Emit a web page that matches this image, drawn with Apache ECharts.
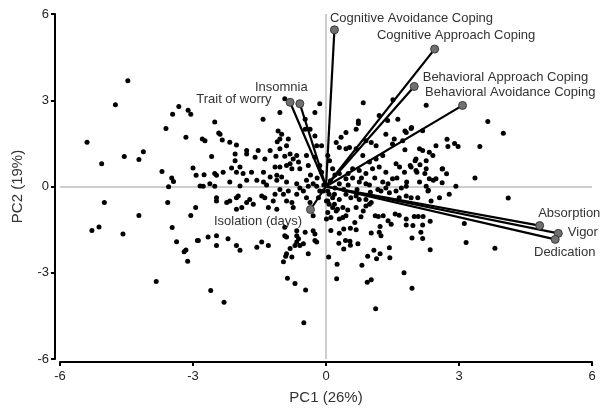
<!DOCTYPE html>
<html>
<head>
<meta charset="utf-8">
<script src="https://cdn.jsdelivr.net/npm/echarts@6/dist/echarts.min.js"></script>
<style>
    html, body { margin: 0; padding: 0; background: #fff; }
    #chart { width: 604px; height: 410px; }
</style>
</head>
<body>
<div id="chart"></div>
<script>
// tick labels
var xTicks = [-6, -3, 0, 3, 6];
var yTicks = [-6, -3, 0, 3, 6];

// PCA scores (PC1, PC2)
var scores = [
    [-4.47, 3.68], [-4.75, 2.84], [-5.39, 1.54], [-5.06, 0.79], [-4.55, 1.04], [-4.22, 0.94], [-4.12, 1.21],
    [-3.70, 0.52], [-3.48, 0.30], [-3.44, 0.17], [-3.55, -0.01], [-3.61, 2.02], [-3.46, 2.51], [-3.32, 2.78],
    [-3.11, 2.65], [-3.05, 2.51], [-3.16, 1.71], [-3.00, 0.64], [-2.93, 0.39], [-5.00, -0.56], [-4.22, -1.01],
    [-5.28, -1.53], [-5.12, -1.41], [-4.58, -1.65], [-3.57, -0.56], [-2.94, -0.73], [-3.05, -1.01], [-3.47, -1.43],
    [-3.37, -1.92], [-2.90, -1.88], [-3.20, -2.27], [-3.16, -2.21], [-3.12, -2.60], [-3.83, -3.30],

    [-0.93, 3.05], [-0.14, 2.88], [-0.25, 2.57], [-1.42, 2.34], [-1.04, 2.57], [-2.51, 2.24],
    [-2.79, 1.65], [-2.73, 1.59], [-2.42, 1.86], [-2.34, 1.62], [-2.17, 1.54], [-2.02, 1.44], [-2.58, 1.04],
    [-2.75, 0.41], [-2.51, 0.45], [-2.32, 0.50], [-2.13, 0.64], [-2.02, 0.50], [-2.05, 0.90], [-1.94, 0.68], [-1.87, 0.45],
    [-1.79, 1.25], [-1.60, 1.02], [-1.53, 1.25], [-1.38, 0.96], [-1.26, 1.25], [-1.04, 1.31], [-0.89, 1.42], [-1.13, 1.05], [-0.93, 1.05],
    [-1.08, 1.93], [-1.00, 1.82], [-1.04, 1.65], [-0.85, 1.65], [-1.10, 1.56],
    [-0.81, 1.13], [-0.74, 0.96], [-0.66, 1.08], [-0.62, 0.85], [-0.81, 0.79], [-0.89, 0.73], [-1.04, 0.68], [-1.15, 0.68], [-0.77, 0.62], [-0.59, 0.62],
    [-0.47, 2.34], [-0.47, 1.99], [-0.36, 1.99], [-0.25, 1.76], [-0.21, 1.42], [-0.44, 1.08], [-0.40, 0.73], [-0.25, 1.02], [-0.14, 0.73], [-0.10, 1.42],
    [-2.84, 0.02], [-2.62, 0.10], [-2.17, 0.16], [-1.94, 0.02], [-1.56, 0.22], [-1.34, 0.05], [-1.11, 0.22], [-0.89, 0.16], [-0.66, 0.10], [-0.44, 0.22], [-0.29, 0.10],
    [-1.11, 0.39], [-1.00, 0.33], [-1.26, 0.33], [-2.39, 1.82], [-2.05, 1.13], [-1.79, 1.13], [-1.68, 0.50], [-1.41, 0.50], [-2.47, 0.39], [-1.79, 0.22], [-1.41, 0.16],

    [-2.60, -3.62], [-0.46, -3.60], [-0.87, -3.19], [-0.70, -3.37], [-0.96, -2.62], [-0.91, -2.43], [-0.77, -2.45], [-0.81, -2.16],
    [-0.89, -2.34], [-0.59, -2.05], [-0.66, -1.93], [-0.51, -1.99], [-0.70, -2.05], [-0.40, -2.34], [-0.25, -1.88], [-0.21, -1.93],
    [-0.29, -1.54], [-0.25, -1.65], [-0.66, -1.71], [-0.62, -1.82], [-0.93, -1.71], [-0.89, -1.76],
    [-2.88, -1.88], [-2.66, -1.76], [-2.47, -1.71], [-2.47, -2.05], [-2.21, -1.82], [-2.02, -2.05], [-1.94, -2.22], [-1.56, -2.11], [-1.45, -1.93], [-1.30, -2.05],
    [-2.47, -0.39], [-2.47, -0.50], [-2.24, -0.56], [-2.17, -0.50], [-2.02, -0.39], [-1.98, -0.33], [-1.90, -0.73], [-2.02, -0.79], [-1.72, -0.45], [-1.64, -0.62], [-1.79, -0.56],
    [-2.77, 0.01], [-2.51, 0.01],
    [-1.45, -0.33], [-1.38, -0.39], [-1.30, -0.73], [-1.19, -0.50], [-1.11, -0.79], [-1.15, -0.27], [-1.04, -0.10], [-0.96, -0.27], [-0.89, -0.50],
    [-0.85, -0.16], [-0.77, -0.56], [-0.74, -0.73], [-0.66, -0.27], [-0.59, -0.05], [-0.51, -0.16], [-0.44, -0.39], [-0.36, -0.56], [-0.17, -0.39],
    [-0.14, -0.16], [-0.21, 0.01], [-0.40, 0.01], [-0.29, -1.02], [-0.06, -0.16], [0.01, -0.50], [0.01, -1.13],
    [-0.93, -1.42], [-0.66, -1.54], [-0.47, -1.59],
    [-2.30, -4.03], [-0.50, -4.74], [1.12, -4.25],

    [0.06, -2.45], [0.25, -2.70], [0.24, -3.21], [0.81, -2.74], [0.94, -2.43], [0.93, -3.33], [1.02, -3.24], [1.14, -2.51], [1.22, -2.34],
    [1.43, -2.13], [1.44, -2.48], [1.08, -2.22], [1.76, -3.00], [1.94, -3.54], [2.35, -2.20], [1.94, -1.79], [2.14, -1.59], [2.18, -1.81],
    [0.11, -1.53], [0.29, -1.97], [0.30, -1.63], [0.40, -2.17], [0.44, -1.88], [0.54, -1.90], [0.55, -2.04], [0.72, -1.99], [0.40, -1.48],
    [0.55, -1.45], [0.68, -1.50], [0.65, -1.25], [0.30, -1.13], [0.38, -1.08], [1.02, -1.62], [1.22, -1.39], [1.20, -1.59], [1.24, -1.71],
    [1.11, -1.02], [1.18, -1.04], [1.29, -1.02], [1.40, -1.19], [1.47, -1.31], [1.56, -0.96], [1.65, -1.00], [1.81, -1.13], [1.81, -1.34],
    [1.99, -1.04], [2.08, -1.04], [2.19, -1.04], [0.79, -1.05], [0.90, -0.68], [0.84, -0.85], [0.98, -0.62], [0.68, -0.73], [0.49, -0.82],
    [0.45, -1.02], [0.38, -0.73], [0.15, -0.73], [0.23, -0.85], [0.11, -1.08], [0.04, -0.90],
    [0.15, -0.39], [0.30, -0.45], [0.19, -0.27], [0.07, -0.27], [0.45, -0.27], [0.56, -0.39], [0.68, -0.33], [0.75, -0.45], [0.90, -0.45], [1.02, -0.56],
    [1.17, -0.10], [1.24, -0.16], [1.35, -0.05], [1.43, -0.22], [1.58, -0.16], [1.65, -0.39], [1.81, -0.33], [1.92, -0.39], [2.07, -0.39],
    [2.30, -0.16], [2.37, -0.50], [2.56, -0.39], [2.78, -0.27], [2.93, 0.01], [2.26, 0.01], [1.81, 0.01],
    [0.04, -0.16], [0.04, -0.50], [0.07, -0.62], [0.19, -0.62], [0.26, -0.79], [2.18, -1.34], [1.96, -1.36], [2.35, -1.21],

    [3.65, 2.26], [4.00, 1.85], [2.73, 1.64], [2.75, 1.39], [2.90, 1.50], [2.98, 1.39], [3.47, 1.39], [2.62, 0.61], [2.72, 0.44],
    [3.36, 0.30], [2.62, 0.13], [4.11, -0.40], [3.12, -1.29], [3.16, -1.95], [3.81, -2.15],

    [0.84, 2.91], [2.26, 2.83], [1.51, 3.02], [0.73, 2.28], [0.73, 2.19], [1.20, 2.47], [1.39, 2.30], [1.62, 2.34], [1.81, 1.88], [1.92, 2.02],
    [0.45, 1.88], [0.34, 1.71], [0.23, 1.53], [0.30, 1.36], [0.45, 1.31], [0.53, 1.36], [0.68, 1.99], [0.90, 1.59], [1.02, 1.53], [1.13, 1.42],
    [1.35, 1.82], [1.54, 1.65], [1.50, 1.48], [1.73, 1.59], [2.18, 1.94], [2.11, 1.31], [2.18, 1.25], [2.33, 1.19], [2.41, 1.08], [2.48, 1.42],
    [2.03, 0.96], [2.26, 0.90], [1.66, 0.68], [1.58, 0.79], [1.92, 0.68], [1.77, 0.50], [2.03, 0.56], [2.26, 0.62], [2.63, 0.62], [2.33, 0.27],
    [2.48, 0.27], [2.11, 0.16], [1.50, 0.27], [1.35, 0.50], [1.20, 0.68], [1.05, 0.62], [0.90, 0.45], [0.75, 0.56], [0.60, 0.62], [1.13, 0.96],
    [0.98, 0.85], [0.83, 1.08], [0.68, 1.31], [1.28, 1.08], [1.28, 0.16], [0.98, 0.05], [0.75, 0.16], [0.45, 0.27], [0.30, 0.45], [0.15, 0.62],
    [0.08, 0.90], [0.04, 1.08],
    [1.78, 1.93], [1.93, 2.05], [1.78, 1.28], [2.01, 0.90], [1.90, 0.73], [2.12, 0.76], [2.05, 0.50], [2.23, 0.45], [2.42, 0.22], [2.31, -0.13], [1.82, 0.16],

    [-0.20, 0.30], [0.10, 0.20], [0.30, 0.10], [0.50, 0.05], [0.60, 0.30], [0.20, 0.40], [-0.10, 0.50], [0.40, -0.10], [0.70, -0.10], [0.90, 0.10],
    [1.10, 0.30], [1.00, -0.20], [0.80, 0.30], [-0.35, 0.40], [0.50, 0.45], [1.40, 0.10], [1.60, 0.30], [1.70, -0.05], [0.20, -0.05], [-0.05, 0.05]
];

// variable loadings (arrow tips)
var varNames = ['Cognitive Avoidance Coping', 'Cognitive Approach Coping', 'Behavioral Approach Coping', 'Behavioral Avoidance Coping',
    'Insomnia', 'Trait of worry', 'Isolation (days)', 'Absorption', 'Vigor', 'Dedication'];
var loadX = [0.19, 2.45, 1.99, 3.08, -0.59, -0.81, -0.35, 4.82, 5.24, 5.17];
var loadY = [5.45, 4.78, 3.48, 2.82, 2.88, 2.93, -0.80, -1.36, -1.63, -1.84];

// label placement relative to the arrow tip: [dx, dy, align]
var labelPos = [
    [-4, -11, 'left'], [22, -13, 'center'], [9, -9, 'left'], [-37, -13, 'left'],
    [-18, -16, 'center'], [-18, -2, 'right'], [-52, 12, 'center'],
    [-1, -12, 'left'], [10, 0, 'left'], [10, 14, 'center']
];

var font = 'Liberation Sans, Arial, sans-serif';

var chart = echarts.init(document.getElementById('chart'));

var series = [{
    type: 'scatter',
    data: scores,
    symbolSize: 5,
    itemStyle: { color: '#000', opacity: 1 },
    z: 3,
    markLine: {
        silent: true,
        symbol: 'none',
        label: { show: false },
        lineStyle: { color: '#bdbdbd', width: 1.5, type: 'solid' },
        data: [{ xAxis: 0 }, { yAxis: 0 }],
        z: 1
    }
}];

for (var i = 0; i < varNames.length; i++) {
    var lp = labelPos[i];
    series.push({
        type: 'line',
        z: 4,
        lineStyle: { color: '#000', width: 2.2 },
        symbol: 'circle',
        symbolSize: 8,
        itemStyle: { color: '#707070', borderColor: '#3a3a3a', borderWidth: 1 },
        data: [
            { value: [0, 0], symbol: 'none' },
            {
                value: [loadX[i], loadY[i]],
                label: {
                    show: true,
                    formatter: varNames[i],
                    position: [4 + lp[0], 4 + lp[1]],
                    align: lp[2],
                    verticalAlign: 'middle',
                    color: '#333',
                    fontSize: 13,
                    fontFamily: font
                }
            }
        ]
    });
}

chart.setOption({
    animation: false,
    grid: { left: 60, right: 12, top: 14, bottom: 47 },
    xAxis: {
        type: 'value',
        min: xTicks[0],
        max: xTicks[xTicks.length - 1],
        interval: 3,
        offset: 3,
        name: 'PC1 (26%)',
        nameLocation: 'middle',
        nameGap: 28,
        nameTextStyle: { color: '#333', fontSize: 15, fontFamily: font },
        axisLine: { onZero: false, lineStyle: { color: '#000', width: 2 } },
        axisTick: { length: 4, lineStyle: { color: '#000', width: 2 } },
        axisLabel: { color: '#222', fontSize: 13, fontFamily: font, margin: 8 },
        splitLine: { show: false }
    },
    yAxis: {
        type: 'value',
        min: yTicks[0],
        max: yTicks[yTicks.length - 1],
        interval: 3,
        offset: 5,
        name: 'PC2 (19%)',
        nameLocation: 'middle',
        nameRotate: 90,
        nameGap: 30,
        nameTextStyle: { color: '#333', fontSize: 15, fontFamily: font },
        axisLine: { onZero: false, lineStyle: { color: '#000', width: 2 } },
        axisTick: { length: 4, lineStyle: { color: '#000', width: 2 } },
        axisLabel: { color: '#222', fontSize: 13, fontFamily: font, margin: 6 },
        splitLine: { show: false }
    },
    series: series
});
</script>
</body>
</html>
